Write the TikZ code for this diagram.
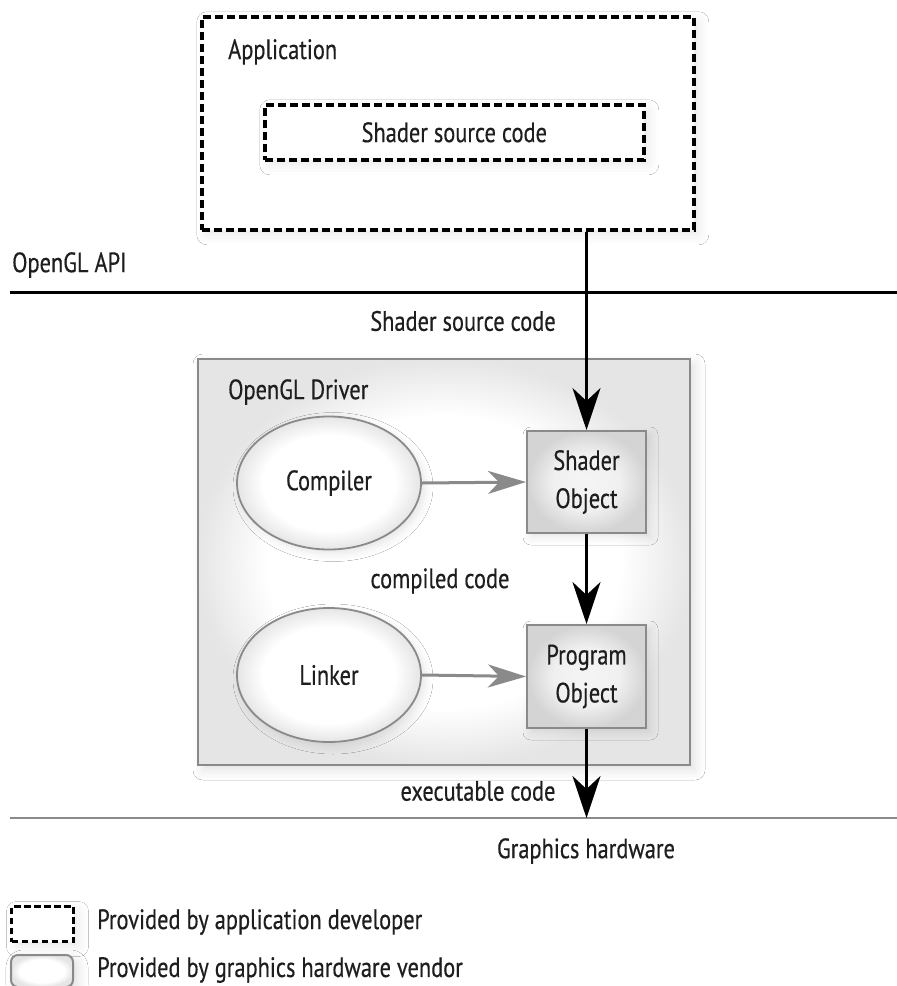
\documentclass[tikz,border=0pt]{standalone}
\usepackage{fontspec}
\setmainfont{PT Sans}[FakeStretch=0.8, FakeBold=0.4]
\usetikzlibrary{arrows.meta,shapes.geometric,shadows.blur}
\pgfdeclareradialshading{softwhite}{\pgfpoint{0bp}{0bp}}{color(0bp)=(white); color(18bp)=(white); color(25bp)=(black!10); color(50bp)=(black!10)}
\pgfdeclareradialshading{softgray}{\pgfpoint{0bp}{0bp}}{color(0bp)=(black!4); color(14bp)=(black!6); color(25bp)=(black!17); color(50bp)=(black!17)}
\definecolor{txt}{HTML}{1E1E1E}
\definecolor{vline}{HTML}{8A8A8A}
\tikzset{
  lbl/.style={font=\fontsize{28}{38}\selectfont, text=txt, inner sep=0pt},
  devbox/.style={draw=black, fill=white, line width=3.6pt, dash pattern=on 8pt off 4pt, inner sep=0pt,
     blur shadow={shadow xshift=5pt, shadow yshift=-5pt, shadow blur radius=10pt, shadow opacity=9}},
  vendorbox/.style={draw=vline, line width=2pt, shading=softwhite, inner sep=0pt,
     blur shadow={shadow xshift=5pt, shadow yshift=-5pt, shadow blur radius=10pt, shadow opacity=12}},
  vellipse/.style={ellipse, draw=vline, line width=1.8pt, shading=softwhite, inner sep=0pt,
     blur shadow={shadow xshift=4pt, shadow yshift=-4pt, shadow blur radius=8pt, shadow opacity=10}},
  objbox/.style={draw=vline, line width=2pt, shading=softgray, inner sep=0pt, align=center,
     blur shadow={shadow xshift=4pt, shadow yshift=-4pt, shadow blur radius=8pt, shadow opacity=10}},
  flow/.style={draw=black, line width=3.2pt, -{Stealth[length=42pt, width=28pt, inset=13pt]}},
  grayflow/.style={draw=vline, line width=3pt, -{Stealth[length=38pt, width=23pt, inset=11pt]}},
}
\begin{document}
\begin{tikzpicture}[x=1pt, y=-1pt]
\useasboundingbox[fill=white] (0,0) rectangle (897,986);

% application (developer-provided)
\node[devbox, anchor=north west, minimum width=492pt, minimum height=213pt] (app) at (200,15) {};
\node[lbl, anchor=base west] (applbl) at (228,59) {Application};
\node[devbox, anchor=north west, minimum width=379pt, minimum height=55pt] (src) at (263,103) {};
\node[lbl] (srclbl) at (src.center) {Shader source code};

% OpenGL API
\node[lbl, anchor=west] (api) at (12,265) {OpenGL API};
\coordinate (apiL) at (10,292);
\coordinate (apiR) at (897,292);
\draw[black, line width=3pt] (apiL) -- (apiR);
\node[lbl] (ssc) at (463,321) {Shader source code};

% driver
\node[vendorbox, anchor=north west, minimum width=492pt, minimum height=406pt] (drv) at (197,358) {};
\node[lbl, anchor=west] (drvlbl) at (228,392) {OpenGL Driver};

\node[vellipse, minimum width=184pt, minimum height=133pt] (comp) at (329,483) {};
\node[lbl] (complbl) at (comp.center) {Compiler};
\node[vellipse, minimum width=184pt, minimum height=134pt] (link) at (329,675) {};
\node[lbl] (linklbl) at (link.center) {Linker};

\node[objbox, minimum width=119pt, minimum height=102pt] (sh) at (586.5,482) {};
\node[lbl, align=center] (shlbl) at (sh.center) {Shader\\Object};
\node[objbox, minimum width=119pt, minimum height=103pt] (prog) at (586.5,676.5) {};
\node[lbl, align=center] (proglbl) at (prog.center) {Program\\Object};

\node[lbl] (cc) at (440,581) {compiled code};

% hardware line
\coordinate (hwL) at (10,818);
\coordinate (hwR) at (897,818);
\draw[vline, line width=2.5pt] (hwL) -- (hwR);
\node[lbl] (ec) at (478,791) {executable code};
\node[lbl] (hw) at (586,851) {Graphics hardware};

% connectors
\draw[flow] (sh.north |- app.south) -- (sh.north);
\draw[flow] (sh.south) -- (prog.north);
\draw[flow] (prog.south) -- (prog.south |- hwL);
\draw[grayflow] (comp.east) -- (sh.west);
\draw[grayflow] (link.east) -- (prog.west);

% legend
\node[devbox, line width=3pt, dash pattern=on 6.5pt off 3.5pt, anchor=north west, minimum width=62pt, minimum height=35pt] (legdev) at (10,905) {};
\node[lbl, anchor=west] (legdevlbl) at (97,922) {Provided by application developer};
\node[vendorbox, rounded corners=7pt, anchor=north west, minimum width=62pt, minimum height=32pt] (legven) at (10,954) {};
\node[lbl, anchor=west] (legvenlbl) at (97,970) {Provided by graphics hardware vendor};
\end{tikzpicture}
\end{document}
